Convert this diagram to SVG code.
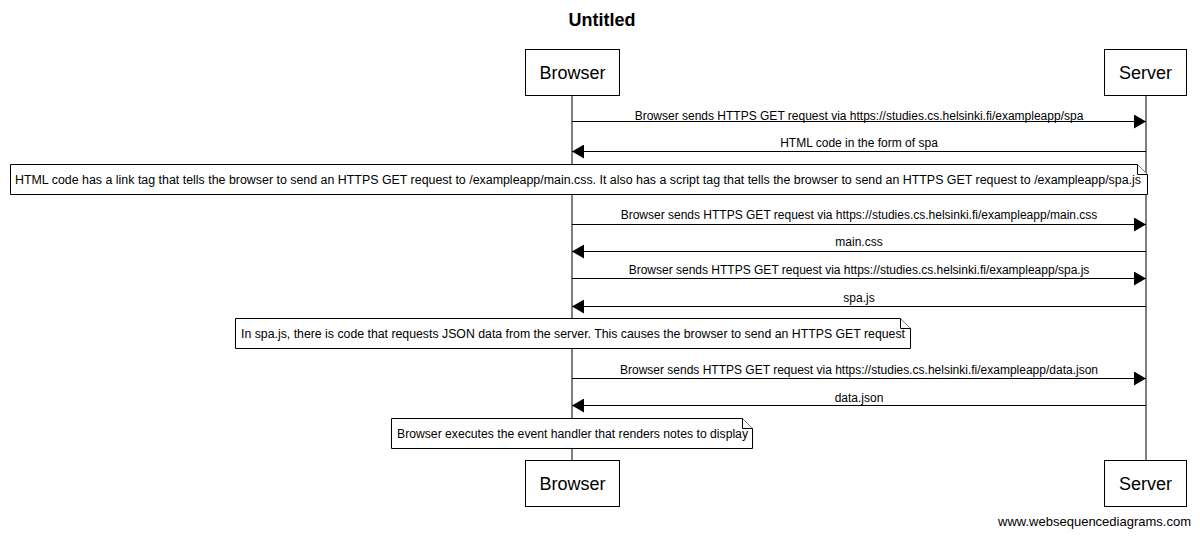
<svg xmlns="http://www.w3.org/2000/svg" width="1200" height="538" viewBox="0 0 1200 538">
<style>
text{font-family:"Liberation Sans",Arial,sans-serif;fill:#000}
.title{font-size:18px;font-weight:bold}
.part{font-size:18px}
.lbl{font-size:12px}
.box{fill:#fff;stroke:#000;stroke-width:1}
.life{stroke:#000;stroke-width:1}
.msg{stroke:#000;stroke-width:1;fill:none}
.note{fill:#fff;stroke:#000;stroke-width:1}
.foot{font-size:13px}
</style>
<defs>
<marker id="ah" markerWidth="12" markerHeight="14" refX="12" refY="7" orient="auto" markerUnits="userSpaceOnUse">
<path d="M0,0 L12,7 L0,14 Z" fill="#000"/>
</marker>
</defs>
<rect width="1200" height="538" fill="#fff"/>
<text class="title" x="602" y="26" text-anchor="middle">Untitled</text>
<g id="lifelines">
<line class="life" x1="572" y1="95" x2="572" y2="461"/>
<line class="life" x1="1146" y1="95" x2="1146" y2="461"/>
</g>
<g id="browser-top"><rect class="box" x="525.500" y="49.500" width="94" height="46"/><text class="part" x="572.500" y="79" text-anchor="middle">Browser</text></g>
<g id="server-top"><rect class="box" x="1104.500" y="49.500" width="82" height="46"/><text class="part" x="1145.500" y="79" text-anchor="middle">Server</text></g>
<g id="browser-bottom"><rect class="box" x="525.500" y="460.500" width="94" height="46"/><text class="part" x="572.500" y="490" text-anchor="middle">Browser</text></g>
<g id="server-bottom"><rect class="box" x="1104.500" y="460.500" width="82" height="46"/><text class="part" x="1145.500" y="490" text-anchor="middle">Server</text></g>
<g id="connectors">
<line class="msg" x1="572" y1="121.500" x2="1146" y2="121.500" marker-end="url(#ah)"/>
<text class="lbl" x="859" y="120" text-anchor="middle">Browser sends HTTPS GET request via https://studies.cs.helsinki.fi/exampleapp/spa</text>
<line class="msg" x1="1146" y1="151.500" x2="572" y2="151.500" marker-end="url(#ah)"/>
<text class="lbl" x="859" y="147" text-anchor="middle">HTML code in the form of spa</text>
<line class="msg" x1="572" y1="224.500" x2="1146" y2="224.500" marker-end="url(#ah)"/>
<text class="lbl" x="859" y="219" text-anchor="middle">Browser sends HTTPS GET request via https://studies.cs.helsinki.fi/exampleapp/main.css</text>
<line class="msg" x1="1146" y1="251.500" x2="572" y2="251.500" marker-end="url(#ah)"/>
<text class="lbl" x="859" y="246" text-anchor="middle">main.css</text>
<line class="msg" x1="572" y1="278.500" x2="1146" y2="278.500" marker-end="url(#ah)"/>
<text class="lbl" x="859" y="274" text-anchor="middle">Browser sends HTTPS GET request via https://studies.cs.helsinki.fi/exampleapp/spa.js</text>
<line class="msg" x1="1146" y1="306.500" x2="572" y2="306.500" marker-end="url(#ah)"/>
<text class="lbl" x="859" y="302" text-anchor="middle">spa.js</text>
<line class="msg" x1="572" y1="378.500" x2="1146" y2="378.500" marker-end="url(#ah)"/>
<text class="lbl" x="859" y="374" text-anchor="middle">Browser sends HTTPS GET request via https://studies.cs.helsinki.fi/exampleapp/data.json</text>
<line class="msg" x1="1146" y1="405.500" x2="572" y2="405.500" marker-end="url(#ah)"/>
<text class="lbl" x="859" y="402" text-anchor="middle">data.json</text>
</g>
<g id="note1">
<path class="note" d="M10.500,164.500 H1137.500 L1147.500,174.500 V194.500 H10.500 Z"/>
<path class="note" d="M1137.500,164.500 V174.500 H1147.500" fill="none"/>
<text class="lbl" x="15" y="184" textLength="1126" lengthAdjust="spacingAndGlyphs">HTML code has a link tag that tells the browser to send an HTTPS GET request to /exampleapp/main.css. It also has a script tag that tells the browser to send an HTTPS GET request to /exampleapp/spa.js</text>
</g>
<g id="note2">
<path class="note" d="M235.500,318.500 H900.500 L910.500,328.500 V348.500 H235.500 Z"/>
<path class="note" d="M900.500,318.500 V328.500 H910.500" fill="none"/>
<text class="lbl" x="241" y="338" textLength="664" lengthAdjust="spacingAndGlyphs">In spa.js, there is code that requests JSON data from the server. This causes the browser to send an HTTPS GET request</text>
</g>
<g id="note3">
<path class="note" d="M391.500,418.500 H742.500 L752.500,428.500 V448.500 H391.500 Z"/>
<path class="note" d="M742.500,418.500 V428.500 H752.500" fill="none"/>
<text class="lbl" x="397" y="438" textLength="351" lengthAdjust="spacingAndGlyphs">Browser executes the event handler that renders notes to display</text>
</g>
<text class="foot" x="1191" y="526" text-anchor="end">www.websequencediagrams.com</text>
</svg>
